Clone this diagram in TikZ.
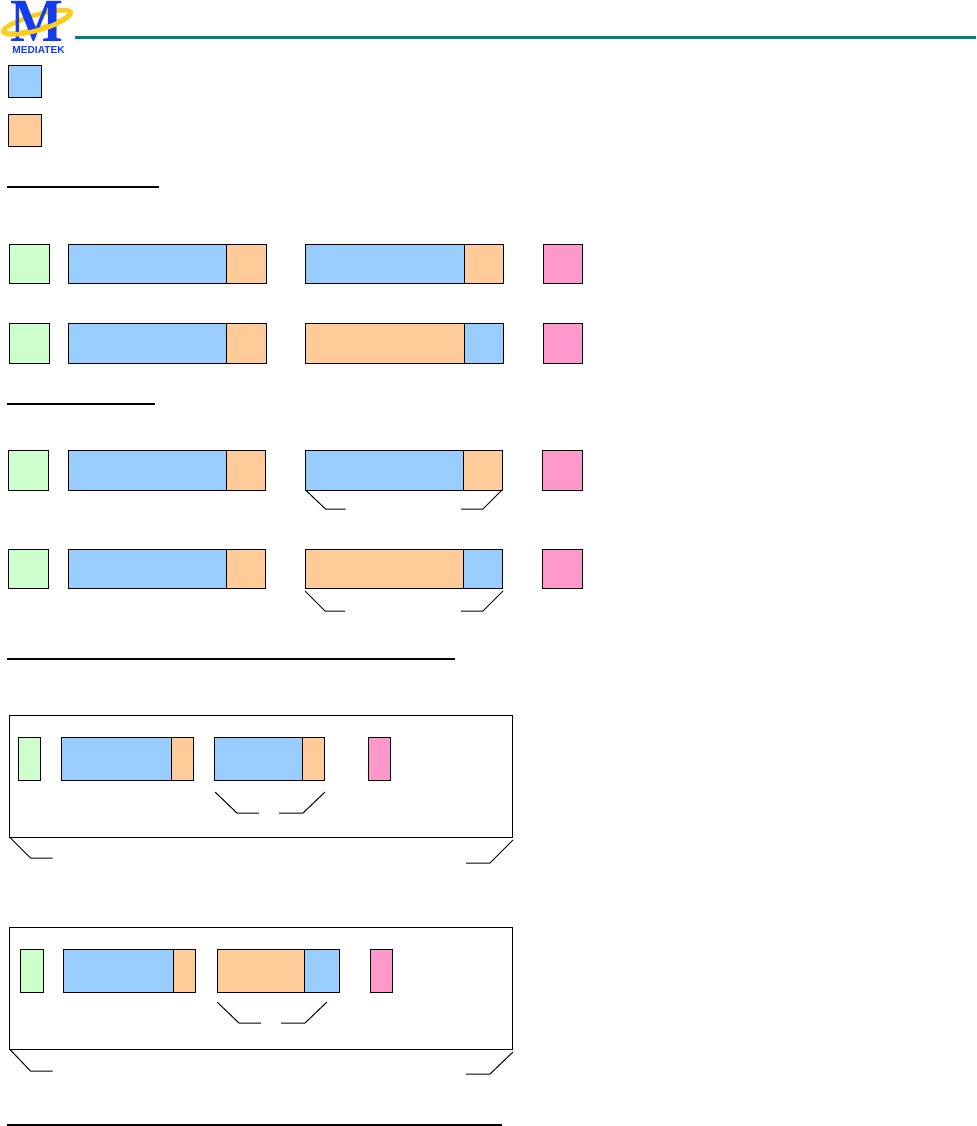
\documentclass[tikz,border=0pt]{standalone}
\usepackage{fontspec}
\setmainfont{Liberation Sans}
\newfontfamily\logoserif{Liberation Serif}
\usetikzlibrary{positioning, calc}
\definecolor{pktblue}{RGB}{153, 204, 255}
\definecolor{pktorange}{RGB}{255, 204, 153}
\definecolor{pktgreen}{RGB}{204, 255, 204}
\definecolor{pktpink}{RGB}{255, 153, 204}
\definecolor{logoblue}{RGB}{20, 60, 235}
\definecolor{logoyellow}{RGB}{250, 205, 30}
\definecolor{ruleteal}{RGB}{0, 128, 128}
\tikzset{
  % Packet segments, size given in pixels of the page
  seg/.style={
    rectangle, draw=black, line width=0.75pt, inner sep=0pt, outer sep=0pt,
    minimum width=#1*0.75pt, minimum height=39.5*0.75pt
  },
  bluebox/.style={seg=#1, fill=pktblue},
  orangebox/.style={seg=#1, fill=pktorange},
  greenbox/.style={seg=#1, fill=pktgreen},
  pinkbox/.style={seg=#1, fill=pktpink},
  tall/.style={minimum height=42.5*0.75pt},
  framebox/.style={seg=503, minimum height=121.5*0.75pt},
  % Brackets and section rules
  brk/.style={line width=0.75pt, color=black},
  secrule/.style={line width=1.5pt, color=black},
}
\begin{document}
\begin{tikzpicture}[x=0.75pt, y=-0.75pt]
  \useasboundingbox (0,0) rectangle (976,1126);

  % logo
  \draw[logoyellow, line width=3.5pt, rotate around={16:(37,22)}] (37,22) ellipse (35 and 7);
  \node[font=\logoserif\bfseries, text=logoblue, xscale=4.2, yscale=4.6, inner sep=0pt] (logom) at (37,21.5) {M};
  \draw[logoyellow, line width=3.5pt, rotate around={16:(37,22)}] (2,22) .. controls (6,33) and (68,33) .. (72,22);
  \node[font=\bfseries, text=logoblue, scale=0.76, inner sep=0pt] (logot) at (38.5,50.5) {MEDIATEK};
  \coordinate (rule0a) at (75,37.5);
  \coordinate (rule0b) at (976,37.5);
  \draw[ruleteal, line width=2.25pt] (rule0a) -- (rule0b);

  % legend
  \node[bluebox=33, minimum height=32*0.75pt, anchor=north west] (key1) at (8.5,65.5) {};
  \node[orangebox=33, minimum height=32*0.75pt, below=17*0.75pt of key1] (key2) {};

  % first group
  \coordinate (rule1a) at (7,187);
  \coordinate (rule1b) at (159,187);
  \draw[secrule] (rule1a) -- (rule1b);

  \node[greenbox=39.5, anchor=north west] (a0) at (9.5,244.5) {};
  \node[bluebox=158, anchor=north west] (a1) at (68.5,244.5) {};
  \node[orangebox=40, right=0pt of a1] (a2) {};
  \node[bluebox=159, anchor=north west] (a3) at (305.5,244.5) {};
  \node[orangebox=39, right=0pt of a3] (a4) {};
  \node[pinkbox=39, anchor=north west] (a5) at (543.5,244.5) {};

  \node[greenbox=40, anchor=north west] (b0) at (9,323.5) {};
  \node[bluebox=158, anchor=north west] (b1) at (68.5,323.5) {};
  \node[orangebox=40, right=0pt of b1] (b2) {};
  \node[orangebox=159, anchor=north west] (b3) at (305.5,323.5) {};
  \node[bluebox=39, right=0pt of b3] (b4) {};
  \node[pinkbox=39, anchor=north west] (b5) at (543.5,323.5) {};

  % second group
  \coordinate (rule2a) at (7,404);
  \coordinate (rule2b) at (155,404);
  \draw[secrule] (rule2a) -- (rule2b);

  \node[greenbox=40, anchor=north west] (c0) at (8.5,450.5) {};
  \node[bluebox=158, anchor=north west] (c1) at (68.5,450.5) {};
  \node[orangebox=39, right=0pt of c1] (c2) {};
  \node[bluebox=157.5, anchor=north west] (c3) at (305.5,450.5) {};
  \node[orangebox=39, right=0pt of c3] (c4) {};
  \node[pinkbox=40, anchor=north west] (c5) at (542.5,450.5) {};
  \draw[brk] (c3.south west) -- ++(20,19) -- ++(20,0);
  \coordinate (c4e) at (461,509);
  \draw[brk] (c4e) -- ++(22,0) -- (c4.south east);

  \node[greenbox=40, minimum height=38.5*0.75pt, anchor=north west] (d0) at (8.5,549.5) {};
  \node[bluebox=158, minimum height=38.5*0.75pt, anchor=north west] (d1) at (68.5,549.5) {};
  \node[orangebox=39, minimum height=38.5*0.75pt, right=0pt of d1] (d2) {};
  \node[orangebox=157.5, minimum height=38.5*0.75pt, anchor=north west] (d3) at (305.5,549.5) {};
  \node[bluebox=39, minimum height=38.5*0.75pt, right=0pt of d3] (d4) {};
  \node[pinkbox=40, minimum height=38.5*0.75pt, anchor=north west] (d5) at (542.5,549.5) {};
  \coordinate (d3s) at (305,591);
  \coordinate (d4s) at (503,591);
  \coordinate (d4e) at (461,611);
  \draw[brk] (d3s) -- ++(20,20) -- ++(20,0);
  \draw[brk] (d4e) -- ++(22,0) -- (d4s);

  % third group
  \coordinate (rule3a) at (7,659);
  \coordinate (rule3b) at (455,659);
  \draw[secrule] (rule3a) -- (rule3b);

  \node[framebox, anchor=north west] (f1) at (9.5,715.5) {};
  \node[greenbox=21.5, tall, anchor=north west] (e0) at (18.5,737.5) {};
  \node[bluebox=110, tall, anchor=north west] (e1) at (61.5,737.5) {};
  \node[orangebox=22, tall, right=0pt of e1] (e2) {};
  \node[bluebox=88, tall, anchor=north west] (e3) at (214.5,737.5) {};
  \node[orangebox=22, tall, right=0pt of e3] (e4) {};
  \node[pinkbox=21.5, tall, anchor=north west] (e5) at (368.5,737.5) {};
  \coordinate (e3s) at (215,792);
  \coordinate (e4s) at (325,792);
  \coordinate (e4e) at (279,813);
  \draw[brk] (e3s) -- ++(22,21) -- ++(22,0);
  \draw[brk] (e4e) -- ++(24,0) -- (e4s);
  \coordinate (f1s) at (513,840);
  \coordinate (f1e) at (466,863);
  \draw[brk] (f1.south west) -- ++(21,21) -- ++(22,0);
  \draw[brk] (f1e) -- ++(24,0) -- (f1s);

  \node[framebox, anchor=north west] (f2) at (9.5,927.5) {};
  \node[greenbox=22.5, tall, anchor=north west] (g0) at (20.5,949.5) {};
  \node[bluebox=110, tall, anchor=north west] (g1) at (63.5,949.5) {};
  \node[orangebox=22, tall, right=0pt of g1] (g2) {};
  \node[orangebox=87, tall, anchor=north west] (g3) at (217.5,949.5) {};
  \node[bluebox=35, tall, right=0pt of g3] (g4) {};
  \node[pinkbox=21.5, tall, anchor=north west] (g5) at (370.5,949.5) {};
  \coordinate (g3s) at (217,1002);
  \coordinate (g4s) at (327,1002);
  \coordinate (g4e) at (281,1023);
  \draw[brk] (g3s) -- ++(22,21) -- ++(22,0);
  \draw[brk] (g4e) -- ++(24,0) -- (g4s);
  \coordinate (f2s) at (513,1052);
  \coordinate (f2e) at (466,1074);
  \draw[brk] (f2.south west) -- ++(21,22) -- ++(22,0);
  \draw[brk] (f2e) -- ++(24,0) -- (f2s);

  % last rule
  \coordinate (rule4a) at (7,1125);
  \coordinate (rule4b) at (502,1125);
  \draw[secrule] (rule4a) -- (rule4b);
\end{tikzpicture}
\end{document}
